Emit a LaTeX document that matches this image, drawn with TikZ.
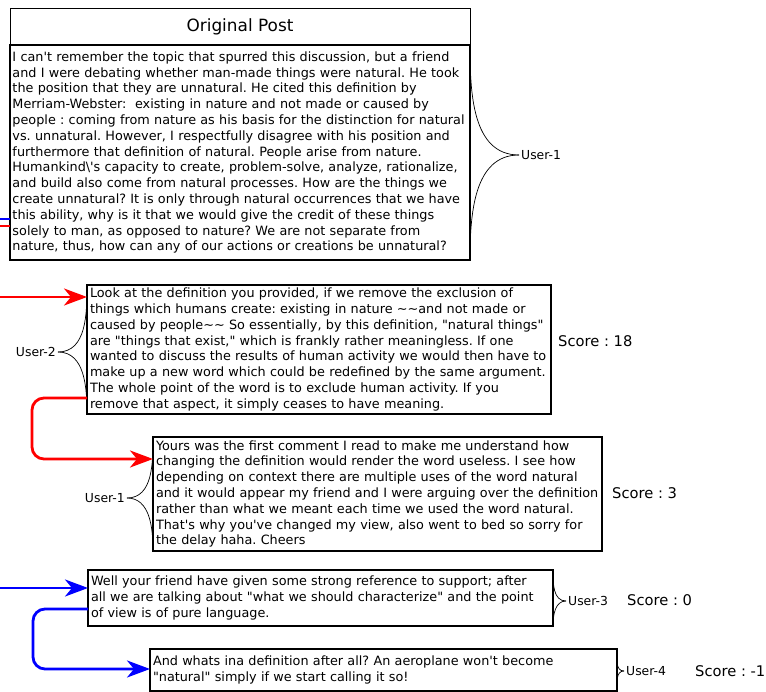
\documentclass[tikz,border=0pt]{standalone}
\usepackage{fontspec}
\setmainfont{DejaVu Sans}[Ligatures=TeXOff]
\usetikzlibrary{arrows.meta}
\frenchspacing
\hyphenpenalty=10000

\tikzset{
  post/.style={draw, line width=1.3pt, anchor=north west, align=left,
    inner xsep=3pt, inner ysep=0pt, outer sep=0pt,
    font=\fontsize{12.8}{15.8}\selectfont},
  user/.style={inner sep=2pt, font=\fontsize{12.4}{14}\selectfont},
  score/.style={anchor=west, inner sep=0pt, font=\fontsize{14.7}{17}\selectfont},
  brace/.style={line width=0.7pt},
  redlink/.style={draw=red, line width=2.8pt},
  bluelink/.style={draw=blue, line width=2.8pt},
  tip/.style={-{Stealth[length=23pt,width=17pt,inset=7pt]}}
}

\begin{document}
\begin{tikzpicture}[x=1pt,y=-1pt]
  \useasboundingbox (0,0) rectangle (766,692);

  % posts
  \node[draw, line width=0.8pt, anchor=north west, outer sep=0pt,
    minimum width=460pt, minimum height=37pt,
    font=\fontsize{16.9}{20}\selectfont] (title) at (10,8) {Original Post};
  \node[post, line width=2pt, inner xsep=2.5pt, text width=455pt, minimum height=215pt] (op) at (10,45)
    {I can't remember the topic that spurred this discussion, but a friend\\
     and I were debating whether man-made things were natural. He took\\
     the position that they are unnatural. He cited this definition by\\
     Merriam-Webster:\ \ existing in nature and not made or caused by\\
     people : coming from nature as his basis for the distinction for natural\\
     vs. unnatural. However, I respectfully disagree with his position and\\
     furthermore that definition of natural. People arise from nature.\\
     Humankind\textbackslash's capacity to create, problem-solve, analyze, rationalize,\\
     and build also come from natural processes. How are the things we\\
     create unnatural? It is only through natural occurrences that we have\\
     this ability, why is it that we would give the credit of these things\\
     solely to man, as opposed to nature? We are not separate from\\
     nature, thus, how can any of our actions or creations be unnatural?};
  \node[post, text width=458pt, minimum height=129pt] (b2) at (87,285)
    {Look at the definition you provided, if we remove the exclusion of\\
     things which humans create: existing in nature \textasciitilde\textasciitilde and not made or\\
     caused by people\textasciitilde\textasciitilde\ So essentially, by this definition, "natural things"\\
     are "things that exist," which is frankly rather meaningless. If one\\
     wanted to discuss the results of human activity we would then have to\\
     make up a new word which could be redefined by the same argument.\\
     The whole point of the word is to exclude human activity. If you\\
     remove that aspect, it simply ceases to have meaning.};
  \node[post, text width=443pt, minimum height=114pt] (b3) at (153,437)
    {Yours was the first comment I read to make me understand how\\
     changing the definition would render the word useless. I see how\\
     depending on context there are multiple uses of the word natural\\
     and it would appear my friend and I were arguing over the definition\\
     rather than what we meant each time we used the word natural.\\
     That's why you've changed my view, also went to bed so sorry for\\
     the delay haha. Cheers};
  \node[post, text width=459pt, minimum height=56pt] (b4) at (88,570)
    {Well your friend have given some strong reference to support; after\\
     all we are talking about "what we should characterize" and the point\\
     of view is of pure language.};
  \node[post, text width=461pt, minimum height=42pt] (b5) at (150,649)
    {And whats ina definition after all? An aeroplane won't become\\
     "natural" simply if we start calling it so!};

  % users and scores
  \node[user, anchor=west] (u1a) at (519,155) {User-1};
  \node[user, anchor=east] (u2) at (58,352) {User-2};
  \node[user, anchor=east] (u1b) at (127,498) {User-1};
  \node[user, anchor=west] (u3) at (566,601) {User-3};
  \node[user, anchor=west] (u4) at (624,671) {User-4};
  \node[score] (s2) at (558,341) {Score : 18};
  \node[score] (s3) at (612,493) {Score : 3};
  \node[score] (s4) at (627,600) {Score : 0};
  \node[score] (s5) at (695,671) {Score : -1};

  \begin{scope}[brace]
    \draw (op.north east) to[out=-90,in=180] (u1a.west);
    \draw (op.south east) to[out=90,in=180] (u1a.west);
    \draw (b2.north west) to[out=-90,in=0] (u2.east);
    \draw (b2.south west) to[out=90,in=0] (u2.east);
    \draw (b3.north west) to[out=-90,in=0] (u1b.east);
    \draw (b3.south west) to[out=90,in=0] (u1b.east);
    \draw (b4.north east) to[out=-90,in=180] (u3.west);
    \draw (b4.south east) to[out=90,in=180] (u3.west);
    \draw (b5.north east) to[out=-90,in=180] (u4.west);
    \draw (b5.south east) to[out=90,in=180] (u4.west);
  \end{scope}

  % threads
  \coordinate (blueop) at (0,219);
  \coordinate (redop) at (0,226);
  \coordinate (redin) at (0,297);
  \coordinate (bluein) at (0,588);
  \draw[bluelink] (blueop) -- (blueop -| op.west);
  \draw[redlink] (redop) -- (redop -| op.west);
  \draw[redlink, tip] (redin) -- (redin -| b2.west);
  \draw[redlink, tip, rounded corners=12pt] ([yshift=16pt]b2.south west)
    -| (32,430) |- ([yshift=-22pt]b3.north west);
  \draw[bluelink, tip] (bluein) -- (bluein -| b4.west);
  \draw[bluelink, tip, rounded corners=12pt] ([yshift=17pt]b4.south west)
    -| (33,640) |- ([yshift=-20pt]b5.north west);
\end{tikzpicture}
\end{document}
